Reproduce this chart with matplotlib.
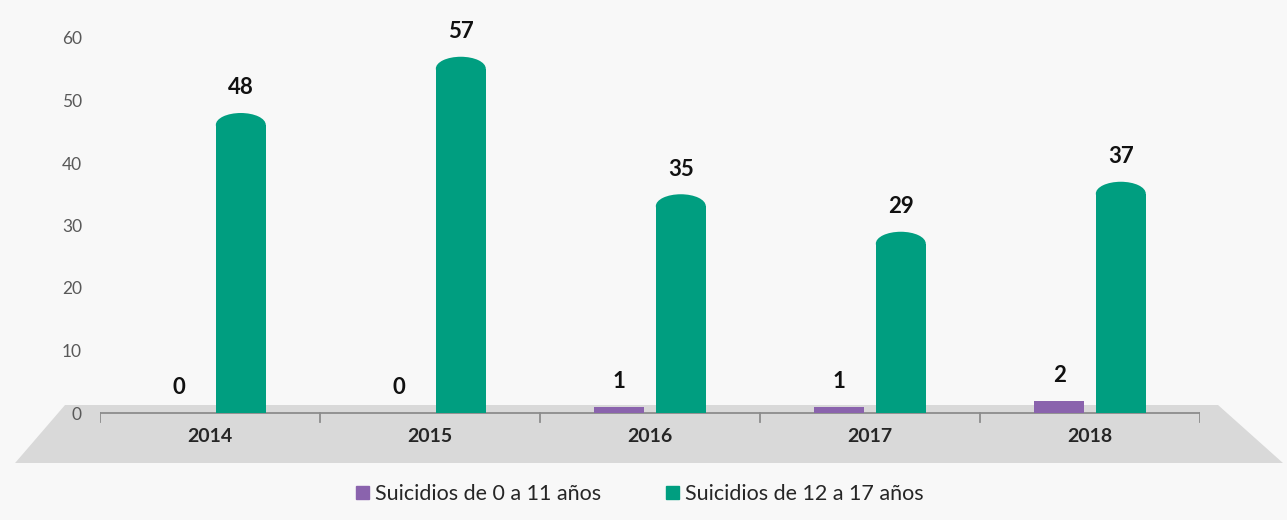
import numpy as np
import matplotlib.pyplot as plt
from matplotlib.patches import Ellipse, Polygon, Patch

# suicides per year, two age groups
years = ['2014', '2015', '2016', '2017', '2018']
ninos = [0, 0, 1, 1, 2]           # 0 a 11 años
adolescentes = [48, 57, 35, 29, 37]  # 12 a 17 años
labels = ['Suicidios de 0 a 11 años', 'Suicidios de 12 a 17 años']

purple = '#8A63AD'
green = '#009E80'
bg = '#F8F8F8'

plt.rcParams['font.family'] = ['Lato', 'DejaVu Sans']

fig = plt.figure(figsize=(12.87, 5.2), dpi=100, facecolor=bg)
ax = fig.add_axes([100 / 1287, 57 / 520, 1100 / 1287, 425 / 520])
ax.set_facecolor('none')
ax.set_xlim(-0.5, 4.5)
ax.set_ylim(-8, 60)

x = np.arange(len(years))
w = 0.227
off = 0.14
cap = 1.9  # half height of the rounded top, in data units

# gray "floor" under the bars
floor = Polygon([(-0.886, -8), (-0.659, 1.28), (4.582, 1.28), (4.877, -8)],
                closed=True, facecolor='#D9D9D9', edgecolor='none',
                clip_on=False, zorder=0)
ax.add_patch(floor)

# category axis line with ticks between groups
ax.plot([-0.5, 4.5], [0, 0], color='#8C8C8C', lw=1.3, zorder=1)
for b in np.arange(-0.5, 4.6, 1):
    ax.plot([b, b], [0, -1.45], color='#8C8C8C', lw=1.3, zorder=1)

# purple: flat bars
ax.bar(x - off, ninos, width=w, color=purple, zorder=2)

# green: cylinders with rounded top
ax.bar(x + off, [v - cap for v in adolescentes], width=w, color=green, zorder=2)
for xi, v in zip(x + off, adolescentes):
    ax.add_patch(Ellipse((xi, v - cap), w, 2 * cap, facecolor=green,
                         edgecolor='none', zorder=2))

for xi, v in zip(x - off, ninos):
    ax.annotate(str(v), (xi, v), xytext=(0, 18), textcoords='offset points',
                ha='center', va='center', fontsize=16, fontweight='bold',
                color='#111111')
for xi, v in zip(x + off, adolescentes):
    ax.annotate(str(v), (xi, v), xytext=(0, 18), textcoords='offset points',
                ha='center', va='center', fontsize=16, fontweight='bold',
                color='#111111')

for xi, yr in zip(x, years):
    ax.text(xi, -3.7, yr, ha='center', va='center', fontsize=14,
            fontweight='bold', color='#262626')

ax.set_xticks([])
ax.set_yticks(range(0, 61, 10))
ax.tick_params(axis='y', length=0, pad=13, labelsize=12.5, labelcolor='#595959')
for s in ax.spines.values():
    s.set_visible(False)

handles = [Patch(color=purple), Patch(color=green)]
fig.legend(handles, labels, loc='center', bbox_to_anchor=(0.497, 0.05),
           ncol=2, frameon=False, fontsize=15.5, handlelength=0.6,
           handleheight=0.6, handletextpad=0.3, columnspacing=3.0,
           labelcolor='#262626')

fig.savefig('out.png', dpi=100, facecolor=bg)
